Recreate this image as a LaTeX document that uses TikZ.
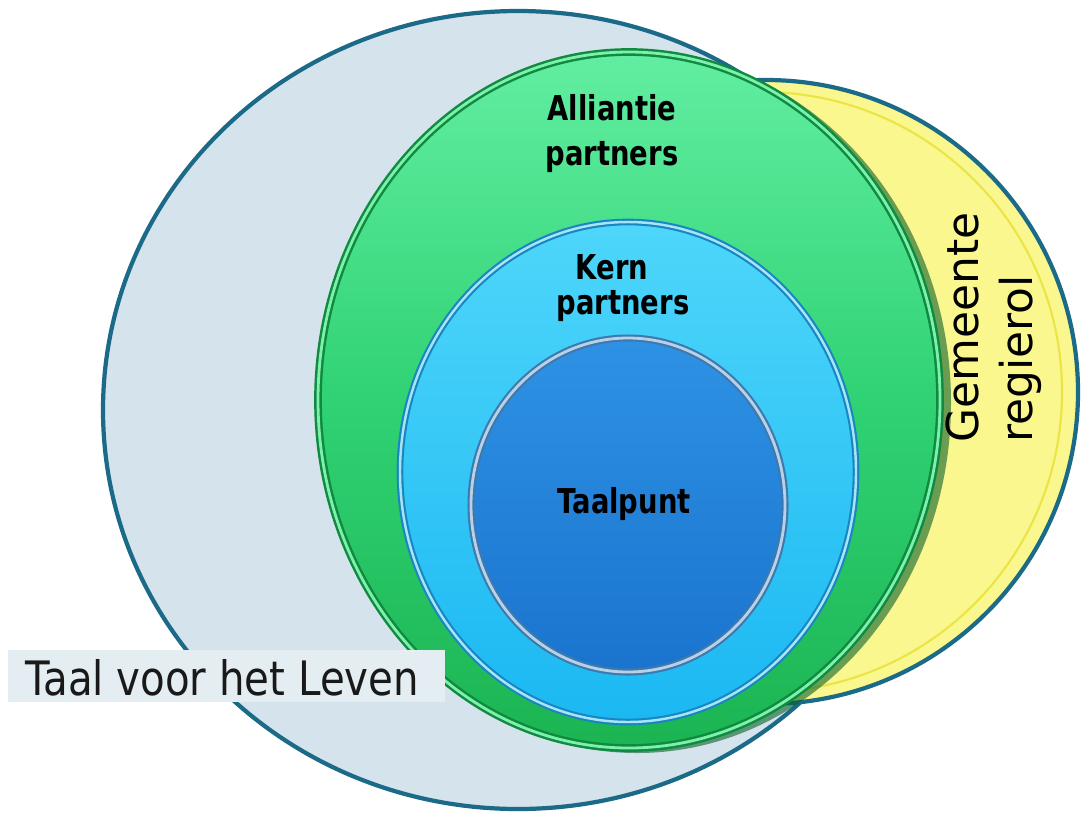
\documentclass[tikz,border=0pt]{standalone}
\usepackage{fontspec}
\setmainfont{DejaVu Sans}
\usetikzlibrary{shapes.geometric}
\definecolor{outerfill}{HTML}{D4E3EC}
\definecolor{tealline}{HTML}{1B6B88}
\definecolor{yell}{HTML}{FAF78E}
\definecolor{greenTop}{HTML}{62EEA2}
\definecolor{greenMid}{HTML}{30D274}
\definecolor{greenBot}{HTML}{1CB452}
\definecolor{greenLine}{HTML}{0F8A3E}
\definecolor{greenRim}{HTML}{7EF0AE}
\definecolor{cyanTop}{HTML}{4ED6FA}
\definecolor{cyanBot}{HTML}{1BB8F2}
\definecolor{cyanLine}{HTML}{1687C2}
\definecolor{cyanRim}{HTML}{A8E4F6}
\definecolor{blueTop}{HTML}{2E92E4}
\definecolor{blueBot}{HTML}{1A74CE}
\definecolor{blueLine}{HTML}{3F78AE}
\definecolor{blueRim}{HTML}{B6D2E6}
\definecolor{boxfill}{HTML}{E4EDF2}
\tikzset{
  ring/.style={ellipse, inner sep=0pt, outer sep=0pt},
  lbl/.style={inner sep=0pt, text=black, font=\fontsize{19.5}{22}\selectfont\bfseries},
  side/.style={inner sep=0pt, text=black, font=\fontsize{25}{30}\selectfont, rotate=90, anchor=base west},
}
\begin{document}
\begin{tikzpicture}[x=0.02cm, y=-0.02cm]
\useasboundingbox (0,0) rectangle (1081,812);
% outer circle
\node[ring, fill=outerfill, draw=tealline, line width=2.4pt,
  minimum width=830*0.02cm, minimum height=798*0.02cm] (outer) at (518,410) {};
% yellow circle
\node[ring, fill=yell, draw=tealline, line width=2.4pt,
  minimum width=624*0.02cm, minimum height=624*0.02cm] (yellow) at (766,392) {};
\node[ring, draw=yellow!70!olive, line width=1.2pt, opacity=0.5,
  minimum width=600*0.02cm, minimum height=600*0.02cm] (yellowrim) at (762,392) {};
% green shadow and circle
\node[ring, fill=greenLine!70!black, opacity=0.6,
  minimum width=628*0.02cm, minimum height=700*0.02cm] (gshadow) at (637,403) {};
\node[ring, top color=greenTop, bottom color=greenBot, middle color=greenMid,
  draw=greenLine, line width=1.4pt, double=greenRim, double distance=1.6pt,
  minimum width=622*0.02cm, minimum height=696*0.02cm] (green) at (629,400) {};
% cyan circle
\node[ring, top color=cyanTop, bottom color=cyanBot,
  draw=cyanLine, line width=1.2pt, double=cyanRim, double distance=1.4pt,
  minimum width=456*0.02cm, minimum height=500*0.02cm] (cyan) at (628,472) {};
% blue circle
\node[ring, top color=blueTop, bottom color=blueBot,
  draw=blueLine, line width=1.2pt, double=blueRim, double distance=1.6pt,
  minimum width=314*0.02cm, minimum height=334*0.02cm] (blue) at (628,505) {};
% labels
\node[lbl, anchor=base] (all1) at (612,120) {\scalebox{0.8}[1]{Alliantie}};
\node[lbl, anchor=base] (all2) at (612,165) {\scalebox{0.8}[1]{partners}};
\node[lbl, anchor=base] (kern1) at (612,279) {\scalebox{0.8}[1]{Kern}};
\node[lbl, anchor=base] (kern2) at (623,314) {\scalebox{0.8}[1]{partners}};
\node[lbl, anchor=base] (taal) at (624,513) {\scalebox{0.8}[1]{Taalpunt}};
\node[side] (gem1) at (978,443) {Gemeente};
\node[side] (gem2) at (1032,443) {regierol};
% Taal voor het Leven box
\node[fill=boxfill, inner sep=0pt, minimum width=437*0.02cm, minimum height=52*0.02cm] (tbox) at (226.5,676) {};
\node[inner sep=0pt, anchor=base west, text=black!90, font=\fontsize{27}{30}\selectfont] (tvhl) at (25,695) {\scalebox{0.85}[1]{Taal voor het Leven}};
\end{tikzpicture}
\end{document}
